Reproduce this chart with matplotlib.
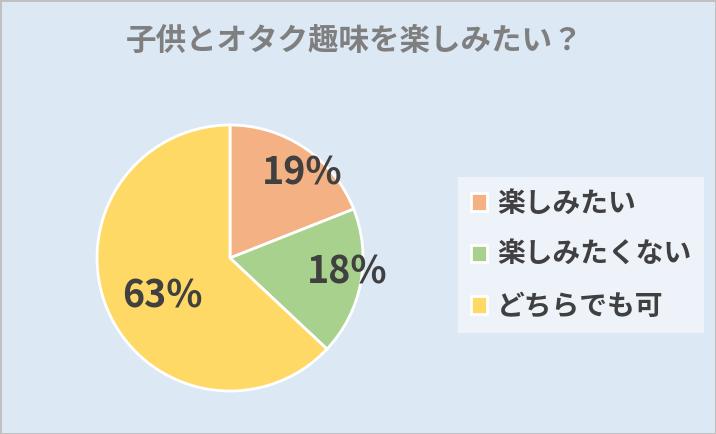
import matplotlib
matplotlib.use("Agg")
import matplotlib.pyplot as plt
import numpy as np

plt.rcParams['font.family'] = ['Noto Sans CJK JP', 'DejaVu Sans']

# data
categories = ["楽しみたい", "楽しみたくない", "どちらでも可"]
shares = [19, 18, 63]
colors = ["#f4b183", "#a9d18e", "#ffd966"]
title = "子供とオタク趣味を楽しみたい？"

bg = "#dde8f5"
fig = plt.figure(figsize=(7.16, 4.34), dpi=100)
fig.patch.set_facecolor(bg)
fig.patch.set_edgecolor("#c0c0c0")
fig.patch.set_linewidth(2)

ax = fig.add_axes([0.1355, 0.099, 0.3715, 0.613])
ax.set_facecolor(bg)
wedges, _ = ax.pie(shares, colors=colors, startangle=90, counterclock=False,
                   wedgeprops=dict(edgecolor="white", linewidth=2))
for w in wedges:
    w.set_clip_on(False)
ax.set_xlim(-1, 1)
ax.set_ylim(-1, 1)
ax.set_aspect("equal")
ax.axis("off")

# label radius per slice (fraction of pie radius)
label_r = [0.84, 0.885, 0.58]
label_shift = [-6, 4, 6]
for w, v, r, s in zip(wedges, shares, label_r, label_shift):
    ang = np.deg2rad((w.theta1 + w.theta2) / 2 + s)
    ax.text(r * np.cos(ang), r * np.sin(ang), f"{v}%", ha="center", va="center",
            fontsize=27, color="#404040", fontweight="bold")

fig.text(0.495, 0.905, title, ha="center", va="center", fontsize=22,
         fontweight="bold", color="#7f7f7f")

leg = fig.legend(wedges, categories, loc="upper left",
                 bbox_to_anchor=(458 / 716, 1 - 177 / 434),
                 fontsize=20, frameon=True, fancybox=False,
                 handlelength=0.6, handleheight=0.6, handletextpad=0.35,
                 labelspacing=0.85, borderpad=0.45, borderaxespad=0)
frame = leg.get_frame()
frame.set_facecolor("#eef3fa")
frame.set_edgecolor("none")
frame.set_alpha(1)
for t in leg.get_texts():
    t.set_color("#404040")
    t.set_fontweight("bold")

fig.savefig("out.png", dpi=100, facecolor=fig.get_facecolor(),
            edgecolor=fig.get_edgecolor())
